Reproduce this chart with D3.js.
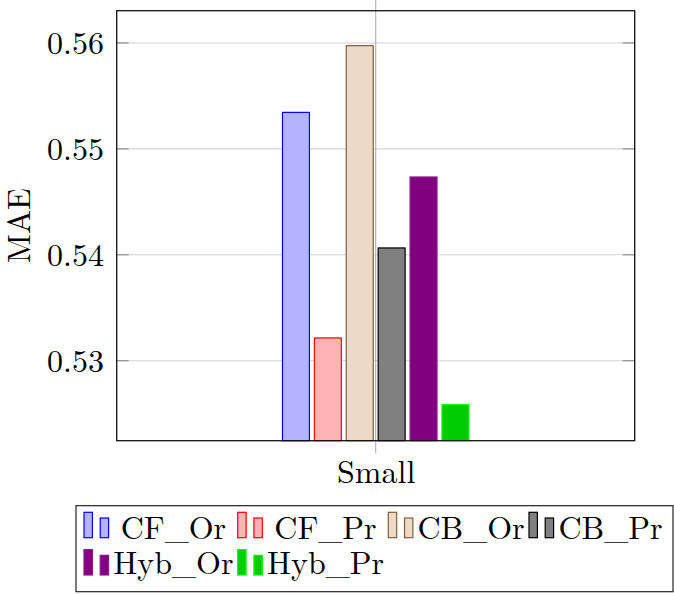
<!DOCTYPE html>
<html>
<head>
<meta charset="utf-8">
<script src="https://cdn.jsdelivr.net/npm/d3@7"></script>
<style>
  html, body { margin: 0; padding: 0; background: #fff; }
  svg { display: block; }
  text { font-family: "Latin Modern Roman", "Liberation Serif", serif; fill: #000; }
</style>
</head>
<body>
<div id="chart"></div>
<script>
// data
const categories = ["Small"];
const series = ["CF_Or", "CF_Pr", "CB_Or", "CB_Pr", "Hyb_Or", "Hyb_Pr"];
const values = [0.5534, 0.5321, 0.5597, 0.5406, 0.5473, 0.5258];
const yTicks = [0.53, 0.54, 0.55, 0.56];
const yLimits = [0.5224, 0.5630];
const yLabel = "MAE";

const fills = ["#b3b3ff", "#ffb3b3", "#ecd9c6", "#808080", "#800080", "#00cc00"];
const strokes = ["#0000ff", "#ff0000", "#80603f", "#000000", "#8a1a8a", "#00ff00"];

const W = 674, H = 595;
const plot = { left: 116.7, right: 634.7, top: 10.7, bottom: 440.7 };
const fontSize = 32;

const svg = d3.select("#chart")
    .append("svg")
    .attr("width", W)
    .attr("height", H);

const y = d3.scaleLinear()
    .domain(yLimits)
    .range([plot.bottom, plot.top]);

const x = d3.scalePoint()
    .domain(categories)
    .range([plot.left, plot.right])
    .padding(0.5);

// bars inside the group, ~32px step
const step = 31.9;
const xs = d3.scaleBand()
    .domain(series)
    .range([-step * series.length / 2, step * series.length / 2])
    .paddingInner(0.155)
    .paddingOuter(0.0775);

// horizontal grid
svg.append("g")
    .attr("transform", `translate(${plot.left},0)`)
    .call(d3.axisLeft(y).tickValues(yTicks).tickSize(-(plot.right - plot.left)).tickFormat(""))
    .call(g => g.select(".domain").remove())
    .call(g => g.selectAll(".tick line").attr("stroke", "#d4d4d4").attr("stroke-width", 1.1));

// vertical line at the category (goes past the box like in the original)
svg.append("g")
    .selectAll("line")
    .data(categories)
    .join("line")
    .attr("x1", d => x(d)).attr("x2", d => x(d))
    .attr("y1", 0).attr("y2", plot.bottom + 12.5)
    .attr("stroke", "#b0b0b0")
    .attr("stroke-width", 1.1);

// bars
const grp = svg.append("g")
    .selectAll("g")
    .data(categories)
    .join("g")
    .attr("transform", d => `translate(${x(d)},0)`);

grp.selectAll("rect")
    .data(series.map((s, i) => ({ s, i, v: values[i] })))
    .join("rect")
    .attr("x", d => xs(d.s))
    .attr("width", xs.bandwidth())
    .attr("y", d => y(d.v))
    .attr("height", d => plot.bottom - y(d.v))
    .attr("fill", d => fills[d.i])
    .attr("stroke", d => strokes[d.i])
    .attr("stroke-width", 1.2);

// left ticks + labels
svg.append("g")
    .attr("transform", `translate(${plot.left},0)`)
    .call(d3.axisLeft(y).tickValues(yTicks).tickSize(-12).tickPadding(12.7).tickFormat(d3.format(".2f")))
    .call(g => g.select(".domain").remove())
    .call(g => g.selectAll(".tick line").attr("stroke", "#888").attr("stroke-width", 1.1))
    .call(g => g.selectAll(".tick text")
        .attr("font-size", fontSize)
        .attr("font-family", null)
        .attr("dy", "0.34em"));

// right ticks
svg.append("g")
    .attr("transform", `translate(${plot.right},0)`)
    .call(d3.axisRight(y).tickValues(yTicks).tickSize(-12).tickFormat(""))
    .call(g => g.select(".domain").remove())
    .call(g => g.selectAll(".tick line").attr("stroke", "#888").attr("stroke-width", 1.1));

// x labels
svg.append("g")
    .attr("transform", `translate(0,${plot.bottom})`)
    .call(d3.axisBottom(x).tickSize(0).tickPadding(20))
    .call(g => g.select(".domain").remove())
    .call(g => g.selectAll(".tick text")
        .attr("font-size", fontSize)
        .attr("font-family", null));

// box
svg.append("rect")
    .attr("x", plot.left)
    .attr("y", plot.top)
    .attr("width", plot.right - plot.left)
    .attr("height", plot.bottom - plot.top)
    .attr("fill", "none")
    .attr("stroke", "#111")
    .attr("stroke-width", 1.3);

// y label
svg.append("text")
    .attr("transform", `translate(30,${(plot.top + plot.bottom) / 2}) rotate(-90)`)
    .attr("text-anchor", "middle")
    .attr("font-size", fontSize)
    .text(yLabel);

// legend
const legBox = { x: 76, y: 505.7, w: 597, h: 86 };
svg.append("rect")
    .attr("x", legBox.x)
    .attr("y", legBox.y)
    .attr("width", legBox.w)
    .attr("height", legBox.h)
    .attr("fill", "#fff")
    .attr("stroke", "#222")
    .attr("stroke-width", 1.2);

const iconX = [84, 237.7, 388.3, 529];
const textMid = [173.4, 325.5, 471, 610.5];
const rowBottom = [537.7, 575];

const leg = svg.append("g")
    .selectAll("g")
    .data(series.map((s, i) => ({ s, i, col: i % 4, row: Math.floor(i / 4) })))
    .join("g");

leg.append("rect")
    .attr("x", d => iconX[d.col])
    .attr("y", d => rowBottom[d.row] - 25.4)
    .attr("width", 8.4)
    .attr("height", 25.4)
    .attr("fill", d => fills[d.i])
    .attr("stroke", d => strokes[d.i])
    .attr("stroke-width", 1.2);

leg.append("rect")
    .attr("x", d => iconX[d.col] + 16.2)
    .attr("y", d => rowBottom[d.row] - 19.7)
    .attr("width", 8.4)
    .attr("height", 19.7)
    .attr("fill", d => fills[d.i])
    .attr("stroke", d => strokes[d.i])
    .attr("stroke-width", 1.2);

leg.append("text")
    .attr("x", d => textMid[d.col])
    .attr("y", d => rowBottom[d.row] + (d.row === 0 ? 1.5 : -1))
    .attr("text-anchor", "middle")
    .attr("font-size", fontSize)
    .text(d => d.s);
</script>
</body>
</html>
